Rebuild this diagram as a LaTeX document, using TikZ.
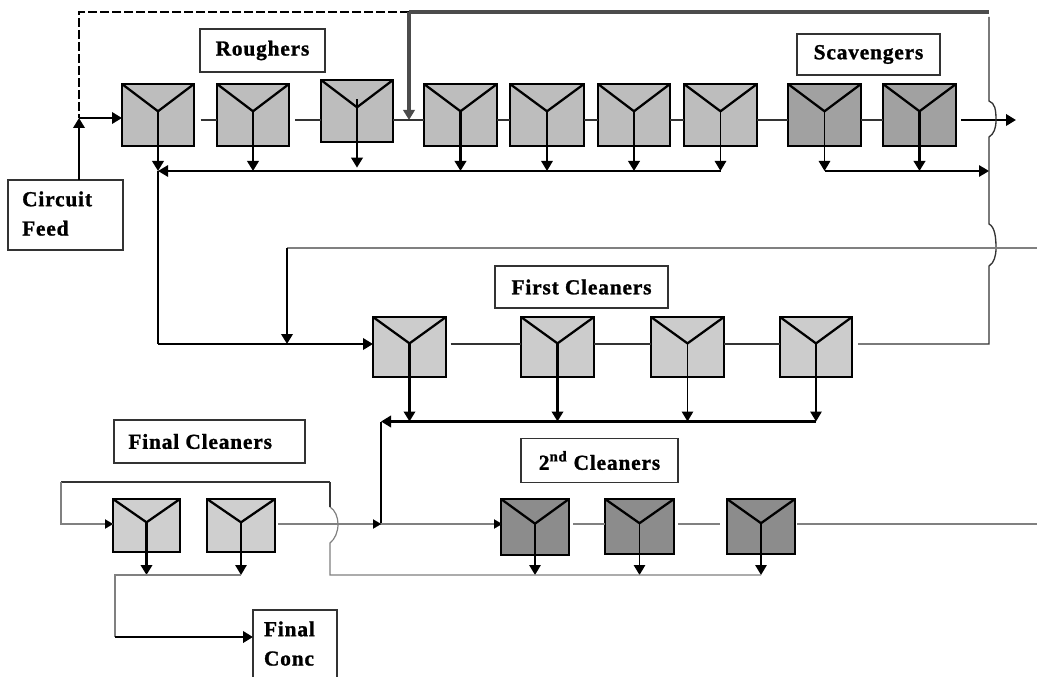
\documentclass[tikz,border=0pt]{standalone}
\usepackage{fontspec}
\setmainfont{Liberation Serif}
\newfontfamily\lab[LetterSpace=4,BoldFont={Liberation Serif Bold},BoldFeatures={FakeBold=1.2}]{Liberation Serif}
\usetikzlibrary{arrows.meta,calc}
\tikzset{
  x=0.75pt,y=-0.75pt,
  flotbox/.style={draw=black,rectangle,inner sep=0pt,outer sep=0pt,line width=2pt},
  ylines/.style={line width=1.7pt,line join=miter},
  lbl/.style={draw=#1,rectangle,line width=1pt,inner sep=0pt,outer sep=0pt,fill=white,
    font=\lab\bfseries\fontsize{16}{22}\selectfont},
  lbl/.default={black!80},
  tip/.style={-{Triangle[length=7.5pt,width=8.5pt]}},
  smalltip/.style={-{Triangle[length=6pt,width=7pt]},line width=0.01pt},
  thin line/.style={line width=1pt,draw=black!80},
  pale line/.style={line width=0.9pt,draw=black!50},
  mid line/.style={line width=1.4pt,draw=black},
  fat line/.style={line width=2.1pt,draw=black},
  grey fat/.style={line width=2.7pt,draw=black!70},
}
\newcommand\flot[6]{% name x0 y0 x1 y1 fill
  \pgfmathsetmacro\fw{(#4-#2)*0.75}\pgfmathsetmacro\fh{(#5-#3)*0.75}
  \pgfmathsetmacro\fx{(#2+#4)/2}\pgfmathsetmacro\fy{(#3+#5)/2}
  \pgfmathsetmacro\jy{#3+0.44*(#5-#3)}
  \node[flotbox,fill=#6,minimum width=\fw pt,minimum height=\fh pt] (#1) at (\fx,\fy) {};
  \coordinate (#1-j) at (\fx,\jy);
  \draw[ylines] (#1.north west) -- (#1-j) -- (#1.north east);
}
\begin{document}
\begin{tikzpicture}
\useasboundingbox (0,0) rectangle (1037,677);
\clip (0,0) rectangle (1037,677);
\definecolor{rg}{gray}{0.74}\definecolor{sg}{gray}{0.63}
\definecolor{cg}{gray}{0.80}\definecolor{dg}{gray}{0.55}\definecolor{fg}{gray}{0.81}
% free-end coordinates: rows and buses
\coordinate (rowA) at (0,120);
\coordinate (busA) at (0,171);
\coordinate (rowB) at (0,344);
\coordinate (busB) at (0,421.5);
\coordinate (rowC) at (0,524);
\coordinate (busC) at (0,575);
% cells
\flot{r1}{122}{84}{194}{146}{rg}
\flot{r2}{217}{84}{289}{146}{rg}
\flot{r3}{321}{80}{393}{142}{rg}
\flot{r4}{424}{84}{497}{146}{rg}
\flot{r5}{510}{84}{584}{146}{rg}
\flot{r6}{598}{84}{670}{146}{rg}
\flot{r7}{684}{84}{757}{146}{rg}
\flot{s1}{788}{84}{861}{146}{sg}
\flot{s2}{883}{84}{956}{146}{sg}
\flot{c1}{373}{317}{446}{377}{cg}
\flot{c2}{521}{317}{594}{377}{cg}
\flot{c3}{651}{317}{724}{377}{cg}
\flot{c4}{780}{317}{852}{377}{cg}
\flot{d1}{501}{499}{569}{555}{dg}
\flot{d2}{605}{499}{674}{554}{dg}
\flot{d3}{727}{499}{795}{554}{dg}
\flot{f1}{113}{499}{180}{552}{fg}
\flot{f2}{207}{499}{275}{552}{fg}
% labels
\node[lbl,minimum width=93.75pt,minimum height=32.25pt] (roughers) at (262.5,50.5) {Roughers};
\node[lbl,minimum width=107.25pt,minimum height=30.75pt] (scav) at (868.5,54.5) {Scavengers};
\node[lbl,minimum width=129.75pt,minimum height=31.5pt] (first) at (581.5,287) {First Cleaners};
\node[lbl,minimum width=117.75pt,minimum height=33pt] (second) at (599.5,460.5) {2\textsuperscript{nd} Cleaners};
\node[lbl,minimum width=143.25pt,minimum height=32.25pt] (final) at (209.5,441.5) {\hspace*{-14pt}Final Cleaners};
\node[lbl,text width=65pt,inner xsep=10.6pt,align=left,minimum height=52.5pt] (feed) at (65.5,215) {\strut Circuit\\\strut Feed};
\node[lbl,text width=46.5pt,inner xsep=8.25pt,align=left,minimum height=52.5pt] (conc) at (295,645) {\strut Final\\\strut Conc};
% top recycle
\coordinate (tj) at (409,12);
\coordinate (fj) at (79,118);
\coordinate (re) at (989,12);
\draw[line width=1.9pt,dash pattern=on 6.5pt off 2.5pt] (tj) -- (fj |- tj) -- (fj);
\draw[grey fat] (tj) -- (re);
\draw[grey fat,tip] (tj) -- (tj |- rowA);
% feed
\draw[fat line,tip] (feed.north -| fj) -- (fj);
\draw[fat line,tip] (fj) -- (r1.west |- fj);
% rougher row
\draw[thin line,shorten <=5pt] (r1.east |- rowA) -- (r2.west |- rowA);
\draw[thin line,shorten <=4.5pt] (r2.east |- rowA) -- (r3.west |- rowA);
\draw[thin line] (r3.east |- rowA) -- (r4.west |- rowA);
\draw[thin line] (r4.east |- rowA) -- (r5.west |- rowA);
\draw[thin line] (r5.east |- rowA) -- (r6.west |- rowA);
\draw[thin line] (r6.east |- rowA) -- (r7.west |- rowA);
\draw[thin line] (r7.east |- rowA) -- (s1.west |- rowA);
\draw[thin line] (s1.east |- rowA) -- (s2.west |- rowA);
\coordinate (out) at (1016,120);
\draw[fat line,tip,shorten <=4pt] (s2.east |- rowA) -- (out);
% rougher stems
\draw[fat line,tip] (r1-j) -- (r1-j |- busA);
\draw[fat line,tip] (r2-j) -- (r2-j |- busA);
\draw[fat line,tip,shorten >=2.5pt] ($(r3-j)+(0,-8)$) -- (r3-j |- busA);
\draw[fat line,tip] (r4-j) -- (r4-j |- busA);
\draw[mid line,tip] (r5-j) -- (r5-j |- busA);
\draw[fat line,tip] (r6-j) -- (r6-j |- busA);
\draw[mid line,tip] (r7-j) -- (r7-j |- busA);
\draw[mid line,tip] (s1-j) -- (s1-j |- busA);
\draw[fat line,tip] (s2-j) -- (s2-j |- busA);
% rougher concentrate bus
\coordinate (rv) at (989,171);
\draw[mid line,tip] (r7-j |- busA) -- (r1-j |- busA);
\draw[mid line,tip] (s1-j |- busA) -- (rv);
% long line with jumps on the right
\coordinate (ra) at (989,17);
\coordinate (rb) at (989,101);
\coordinate (rc) at (989,137);
\coordinate (rd) at (989,224);
\coordinate (rf) at (989,266);
\draw[thin line] (ra) -- (rb)
  .. controls (995,103) and (996,110) .. (996,120)
  .. controls (996,128) and (994,134) .. (rc) -- (rd)
  .. controls (995,227) and (996,238) .. (996,248)
  .. controls (996,256) and (994,263) .. (rf) -- (rf |- rowB) -- ([xshift=4.5pt]c4.east |- rowB);
% middle recycle
\coordinate (mv) at (287,248);
\coordinate (me) at (1037,248);
\draw[pale line] (me) -- (mv);
\draw[fat line,tip] (mv) -- (mv |- rowB);
\draw[mid line] (r1-j |- busA) -- (r1-j |- rowB);
\draw[fat line,tip] (r1-j |- rowB) -- (c1.west |- rowB);
% cleaner row
\draw[thin line,shorten <=3.5pt] (c1.east |- rowB) -- (c2.west |- rowB);
\draw[thin line] (c2.east |- rowB) -- (c3.west |- rowB);
\draw[thin line] (c3.east |- rowB) -- (c4.west |- rowB);
\draw[fat line,tip] (c1-j) -- (c1-j |- busB);
\draw[fat line,tip] (c2-j) -- (c2-j |- busB);
\draw[mid line,tip] (c3-j) -- (c3-j |- busB);
\draw[mid line,tip] (c4-j) -- (c4-j |- busB);
\coordinate (bv) at (381,421.5);
\draw[fat line,tip] (c4-j |- busB) -- (bv);
\draw[mid line] (bv) -- (bv |- rowC);
% second cleaner row
\coordinate (f2a) at (278,524);
\draw[pale line] (f2a) -- (d1.west |- rowC);
\draw[pale line,shorten <=3pt] (d1.east |- rowC) -- (d2.west |- rowC);
\coordinate (d2e) at (720,524);
\draw[pale line,shorten <=3pt] (d2.east |- rowC) -- (d2e);
\coordinate (de) at (1037,524);
\draw[pale line,shorten <=1.5pt] (d3.east |- rowC) -- (de);
\coordinate (a1) at (381,524);
\draw[smalltip] ($(a1)+(-7,0)$) -- (a1);
\draw[smalltip] ($(d1.west |- rowC)+(-7,0)$) -- ($(d1.west |- rowC)+(1,0)$);
\draw[mid line,tip] (d1-j) -- (d1-j |- busC);
\draw[mid line,tip] (d2-j) -- (d2-j |- busC);
\draw[mid line,tip] (d3-j) -- (d3-j |- busC);
% second-cleaner tails bus with jump
\coordinate (tv) at (330,575);
\coordinate (tb) at (330,543);
\coordinate (tt) at (330,507);
\coordinate (tp) at (330,482);
\draw[pale line] (d3-j |- busC) -- (tv) -- (tb)
  .. controls (335,539) and (338,532) .. (338,524)
  .. controls (338,517) and (335,510) .. (tt);
\draw[thin line] (tt) -- (tp);
% final cleaner loop
\coordinate (ll) at (61,482);
\draw[thin line] (tp) -- (ll);
\draw[pale line] (ll) -- (ll |- rowC) -- (f1.west |- rowC);
\draw[smalltip] ($(f1.west |- rowC)+(-8,0)$) -- (f1.west |- rowC);
% final stems and product
\draw[fat line,tip] (f1-j) -- (f1-j |- busC);
\draw[mid line,tip] (f2-j) -- (f2-j |- busC);
\coordinate (pv) at (115,575);
\coordinate (pc) at (115,637);
\draw[pale line] (f2-j |- busC) -- (pv) -- (pc);
\draw[fat line,tip] (pc) -- (conc.west |- pc);
\end{tikzpicture}
\end{document}
